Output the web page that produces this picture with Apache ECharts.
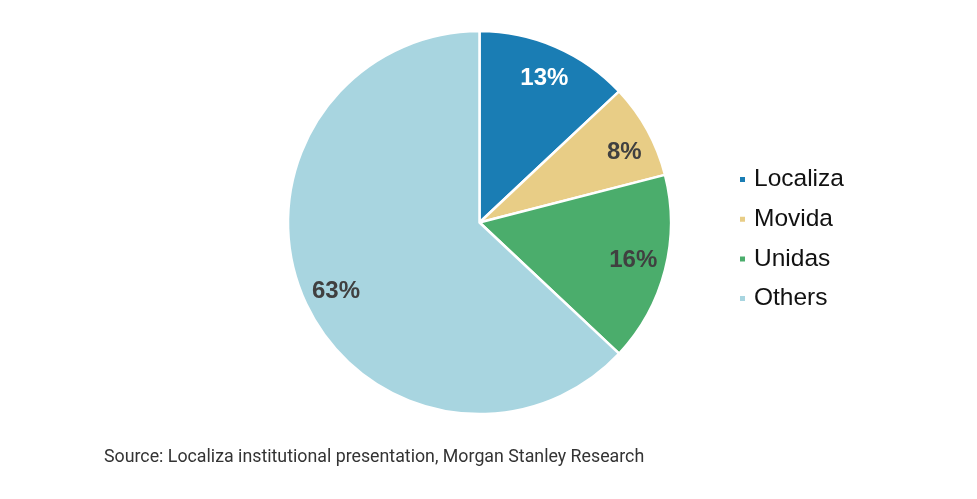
<!DOCTYPE html>
<html>
<head>
<meta charset="utf-8">
<script src="https://cdn.jsdelivr.net/npm/echarts@6/dist/echarts.min.js"></script>
<style>
  html, body { margin: 0; padding: 0; background: #fff; }
  #chart { width: 977px; height: 499px; }
</style>
</head>
<body>
<div id="chart"></div>
<script>
// market share data
const categories = ['Localiza', 'Movida', 'Unidas', 'Others'];
const shares = [13, 8, 16, 63];
const sourceText = 'Source: Localiza institutional presentation, Morgan Stanley Research';

// styling
const colors = ['#1a7db4', '#e8cd86', '#4bad6c', '#a8d5e0'];
const labelColors = ['#ffffff', '#404040', '#404040', '#404040'];
const labelNudge = [[1, 3], [4, 7], [-2, -2], [4, 5]];
const FONT = "'Liberation Sans', Arial, sans-serif";

const chart = echarts.init(document.getElementById('chart'));

const center = [479.5, 222.5];

const pieData = categories.map(function (name, i) {
    return { name: name, value: shares[i], itemStyle: { color: colors[i] } };
});

const labelData = categories.map(function (name, i) {
    return {
        name: name,
        value: shares[i],
        label: { color: labelColors[i], offset: labelNudge[i] }
    };
});

chart.setOption({
    animation: false,
    legend: {
        orient: 'vertical',
        left: 733,
        top: 162,
        itemWidth: 7,
        itemHeight: 7,
        itemGap: 14.7,
        icon: 'rect',
        data: categories,
        textStyle: { fontFamily: FONT, fontSize: 24.5, color: '#111', lineHeight: 24, padding: [0, 0, 0, 3] }
    },
    graphic: [{
        type: 'text',
        left: 104,
        top: 449,
        style: { text: sourceText, font: '17.8px Roboto', fill: '#333' }
    }],
    series: [{
        name: 'share',
        type: 'pie',
        center: center,
        radius: [0, 191.5],
        startAngle: 90,
        clockwise: true,
        label: { show: false },
        labelLine: { show: false },
        itemStyle: { borderColor: '#fff', borderWidth: 2.5 },
        emphasis: { disabled: true },
        data: pieData
    }, {
        name: 'labels',
        type: 'pie',
        center: center,
        radius: [124, 191.5],
        startAngle: 90,
        clockwise: true,
        silent: true,
        legendHoverLink: false,
        itemStyle: { color: 'rgba(0,0,0,0)' },
        label: {
            show: true,
            position: 'inside',
            formatter: '{c}%',
            fontFamily: FONT,
            fontWeight: 'bold',
            fontSize: 24
        },
        labelLine: { show: false },
        emphasis: { disabled: true },
        data: labelData
    }]
});
</script>
</body>
</html>
